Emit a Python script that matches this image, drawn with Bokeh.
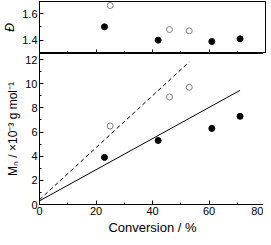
from bokeh.plotting import figure
from bokeh.layouts import column
from bokeh.models import Range1d, SingleIntervalTicker, CustomJSTickFormatter
from bokeh.embed import file_html
from bokeh.resources import INLINE

# data
conv_filled = [23, 42, 61, 71]
disp_filled = [1.50, 1.40, 1.39, 1.41]
mn_filled = [3.9, 5.3, 6.3, 7.3]
conv_open = [25, 46, 53]
disp_open = [1.66, 1.48, 1.47]
mn_open = [6.5, 8.9, 9.7]
theo_solid_x = [0, 71]
theo_solid_y = [0.3, 9.45]
theo_dash_x = [0, 53]
theo_dash_y = [0.4, 11.8]

FONT = "Liberation Sans"
LEFT = 31
FW = 226


def style(p):
    p.outline_line_color = "black"
    p.outline_line_width = 1
    p.xgrid.visible = False
    p.ygrid.visible = False
    p.background_fill_color = "white"
    p.border_fill_color = "white"
    for ax in (p.xaxis[0], p.yaxis[0]):
        ax.axis_line_color = "black"
        ax.major_tick_in = 4
        ax.major_tick_out = 0
        ax.minor_tick_in = 2
        ax.minor_tick_out = 0
        ax.major_tick_line_color = "black"
        ax.minor_tick_line_color = "black"
        ax.major_label_text_font = FONT
        ax.major_label_text_font_size = "11px"
        ax.major_label_text_color = "black"
        ax.axis_label_text_font = FONT
        ax.axis_label_text_font_size = "12px"
        ax.axis_label_text_font_style = "normal"
        ax.axis_label_text_color = "black"
        ax.major_label_standoff = 2
        ax.axis_label_standoff = 2


top = figure(frame_width=FW, frame_height=52, output_backend="svg",
             toolbar_location=None, x_range=Range1d(0, 80),
             y_range=Range1d(1.3, 1.69),
             min_border_left=LEFT, min_border_right=1,
             min_border_top=1, min_border_bottom=0)
style(top)
top.xaxis.ticker = SingleIntervalTicker(interval=20, num_minor_ticks=2)
top.yaxis.ticker = SingleIntervalTicker(interval=0.2, num_minor_ticks=2)
top.xaxis.formatter = CustomJSTickFormatter(code="return ''")
top.xaxis.major_label_standoff = 0
top.xaxis.axis_label = None
top.yaxis.axis_label = "Đ"
top.yaxis.axis_label_text_font_style = "italic"
top.scatter(conv_filled, disp_filled, size=6, color="black")
top.scatter(conv_open, disp_open, size=6, fill_color="white",
            line_color="#808080", line_width=1)

bot = figure(frame_width=FW, frame_height=151, output_backend="svg",
             toolbar_location=None, x_range=top.x_range,
             y_range=Range1d(0, 12.5),
             min_border_left=LEFT, min_border_right=1,
             min_border_top=0, min_border_bottom=0)
style(bot)
bot.xaxis.ticker = SingleIntervalTicker(interval=20, num_minor_ticks=2)
bot.yaxis.ticker = SingleIntervalTicker(interval=2, num_minor_ticks=2)
bot.xaxis.axis_label = "Conversion / %"
bot.xaxis.axis_label_text_font_size = "13px"
bot.yaxis.axis_label = "Mₙ / ×10⁻³ g mol⁻¹"
bot.line(theo_solid_x, theo_solid_y, line_color="black", line_width=1)
bot.line(theo_dash_x, theo_dash_y, line_color="black", line_width=1,
         line_dash="4 3")
bot.scatter(conv_filled, mn_filled, size=6, color="black")
bot.scatter(conv_open, mn_open, size=6, fill_color="white",
            line_color="#808080", line_width=1)

p = column(top, bot, spacing=0)
open("out.html", "w").write(file_html(p, INLINE))
